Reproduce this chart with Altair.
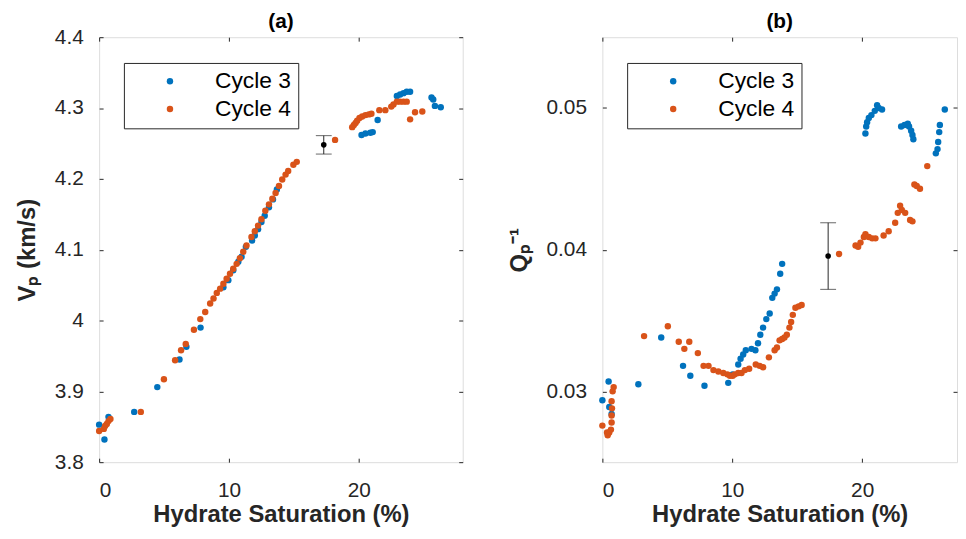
import altair as alt
import pandas as pd

# ---------------- data: panel (a) Vp ----------------
a_c3_sat = [0.0, 0.41, 0.72, 2.70, 4.48, 6.19, 6.72, 7.81, 9.57, 9.95, 10.33, 10.72, 10.97,
            11.30, 11.78, 11.99, 12.24, 12.50, 12.75, 13.08, 13.39, 13.69,
            20.21, 20.51, 20.89, 21.07, 21.45, 22.93, 23.18, 23.44, 23.69, 23.95,
            25.60, 25.73, 25.86, 26.31]
a_c3_vp = [3.853, 3.832, 3.864, 3.871, 3.906, 3.945, 3.963, 3.990, 4.047, 4.057, 4.071, 4.083, 4.090,
           4.104, 4.113, 4.120, 4.129, 4.139, 4.148, 4.160, 4.171, 4.185,
           4.262, 4.264, 4.265, 4.266, 4.283, 4.317, 4.319, 4.321, 4.323, 4.323,
           4.315, 4.312, 4.303, 4.301]
a_c4_sat = [0.0, 0.36, 0.46, 0.59, 0.72, 0.87, 3.21, 4.99, 5.85, 6.31, 6.67, 7.30, 7.79, 8.17,
            8.55, 8.81, 9.06, 9.32, 9.57, 9.82, 10.08, 10.33, 10.59, 10.84, 11.10, 11.35, 11.73,
            11.99, 12.24, 12.50, 12.80, 13.08, 13.34, 13.59, 13.85, 14.10, 14.36, 14.56, 14.96,
            15.22, 18.17, 19.49, 19.62, 19.75, 19.87, 20.05, 20.26, 20.51, 20.77, 20.97, 21.58,
            22.04, 22.50, 22.67, 22.93, 23.18, 23.44, 23.69, 23.95, 24.33, 24.89]
a_c4_vp = [3.844, 3.847, 3.851, 3.854, 3.858, 3.861, 3.871, 3.917, 3.944, 3.958, 3.967, 3.987, 4.002,
           4.012, 4.024, 4.031, 4.039, 4.045, 4.052, 4.059, 4.066, 4.073, 4.080, 4.088, 4.097,
           4.106, 4.118, 4.126, 4.134, 4.143, 4.155, 4.164, 4.172, 4.180, 4.190, 4.199, 4.206,
           4.211, 4.220, 4.224, 4.255, 4.273, 4.276, 4.279, 4.282, 4.286, 4.288, 4.290, 4.291,
           4.292, 4.297, 4.297, 4.302, 4.305, 4.309, 4.309, 4.309, 4.309, 4.284, 4.294, 4.295]

# ---------------- data: panel (b) Qp^-1 ----------------
b_c3_sat = [0.0, 0.48, 0.53, 0.71, 2.77, 4.53, 6.21, 6.77, 7.86, 9.69, 10.03, 10.46, 10.64, 10.84,
            11.04, 11.48, 11.78, 11.98, 12.16, 12.37, 12.62, 12.88, 13.08, 13.26, 13.44, 13.69,
            13.84, 20.25, 20.31, 20.38, 20.51, 20.71, 20.97, 21.15, 21.27, 21.53, 23.00, 23.26,
            23.51, 23.61, 23.77, 23.87, 23.94, 25.67, 25.80, 25.85, 25.93, 25.98, 26.36]
b_c3_q = [0.02937, 0.0307, 0.0289, 0.0284, 0.0305, 0.0338, 0.0318, 0.0311, 0.0304, 0.0306, 0.0312,
          0.0319, 0.0323, 0.0326, 0.0329, 0.0330, 0.0329, 0.0334, 0.0340, 0.0345, 0.0351, 0.0355,
          0.0366, 0.0369, 0.0372, 0.0383, 0.0390, 0.0482, 0.0487, 0.0490, 0.0493, 0.0495, 0.0498,
          0.0502, 0.0500, 0.0499, 0.0487, 0.0488, 0.0489, 0.0487, 0.0484, 0.0481, 0.0478, 0.0468,
          0.0471, 0.0476, 0.0483, 0.0488, 0.0499]
b_c4_sat = [0.0, 0.36, 0.41, 0.53, 0.66, 0.71, 0.71, 0.74, 0.71, 0.79, 0.87, 3.21, 5.04, 5.88, 6.31,
            6.69, 7.35, 7.79, 8.17, 8.55, 8.93, 9.31, 9.62, 9.82, 10.03, 10.20, 10.46, 10.71, 10.97,
            11.30, 11.81, 12.11, 12.37, 12.82, 13.26, 13.44, 13.64, 13.84, 14.02, 14.20, 14.40,
            14.53, 14.66, 14.86, 15.11, 15.34, 18.22, 19.49, 19.69, 19.87, 20.13, 20.25, 20.51,
            20.77, 21.02, 21.65, 22.04, 22.54, 22.74, 22.92, 23.05, 23.31, 23.69, 23.87, 24.02,
            24.20, 24.45, 25.01]
b_c4_q = [0.02758, 0.0271, 0.0269, 0.0271, 0.0273, 0.0278, 0.0283, 0.0288, 0.0293, 0.0300, 0.0303,
          0.0339, 0.0346, 0.0335, 0.0330, 0.0335, 0.0327, 0.0318, 0.0318, 0.0315, 0.0314, 0.0313,
          0.0312, 0.0311, 0.0311, 0.0312, 0.0313, 0.0313, 0.0315, 0.0316, 0.0319, 0.0318, 0.0317,
          0.0324, 0.0329, 0.0331, 0.0336, 0.0337, 0.0338, 0.0340, 0.0345, 0.0349, 0.0354, 0.0359,
          0.0360, 0.0361, 0.0397, 0.0403, 0.0402, 0.0405, 0.0409, 0.0411, 0.0409, 0.0408, 0.0408,
          0.0410, 0.0413, 0.0419, 0.0426, 0.0431, 0.0428, 0.0426, 0.0421, 0.0420, 0.0446, 0.0445,
          0.0443, 0.0459]

# ---------------- error bars (one per panel) ----------------
err_sat = [17.30, 17.38]
err_val = [4.248, 0.03955]
err_lo = [4.235, 0.0372]
err_hi = [4.261, 0.0419]

series = ["Cycle 3", "Cycle 4"]
colors = ["#0072BD", "#D95319"]

FONT = "Liberation Sans"
INK = "#262626"


def make_df(s3, v3, s4, v4):
    return pd.DataFrame({
        "sat": list(s3) + list(s4),
        "val": list(v3) + list(v4),
        "cycle": [series[0]] * len(s3) + [series[1]] * len(s4),
    })


def inward(orient, fmt=None, values=None, title=None, labels=True, labelPadding=16,
           titlePadding=4):
    kw = dict(orient=orient, domain=False, ticks=True, tickSize=4, offset=-4,
              tickColor=INK, grid=False, labels=labels, labelFont=FONT, labelFontSize=21,
              labelColor=INK, labelPadding=labelPadding, titleFont=FONT, titleFontSize=24,
              titleFontWeight="bold", titleColor=INK, titlePadding=titlePadding)
    if fmt:
        kw["format"] = fmt
    if values is not None:
        kw["values"] = values
    kw["title"] = title
    return alt.Axis(**kw)


def panel(df, i, ydom, yvals, yfmt, ytitle, ptitle, xdom, width, toff):
    xs = alt.Scale(domain=xdom, nice=False, zero=False)
    ys = alt.Scale(domain=ydom, nice=False, zero=False)
    legend = alt.Legend(title=None, orient="none", legendX=25, legendY=26,
                        strokeColor=INK, fillColor="white", padding=7,
                        labelFont=FONT, labelFontSize=23, labelColor="black",
                        symbolType="circle", symbolSize=42, symbolStrokeWidth=0,
                        symbolOffset=28, labelOffset=34, rowPadding=4)
    pts = alt.Chart(df).mark_circle(size=42, opacity=1).encode(
        x=alt.X("sat:Q", scale=xs, axis=inward("bottom", values=[0, 10, 20],
                                                  title="Hydrate Saturation (%)",
                                                  labelPadding=18, titlePadding=2)),
        y=alt.Y("val:Q", scale=ys, axis=inward("left", fmt=yfmt, values=yvals, title=ytitle,
                                                  labelPadding=16, titlePadding=15)),
        color=alt.Color("cycle:N", scale=alt.Scale(domain=series, range=colors), legend=legend),
    )
    edf = pd.DataFrame({"sat": [err_sat[i]], "val": [err_val[i]],
                        "lo": [err_lo[i]], "hi": [err_hi[i]]})
    cdf = pd.DataFrame({"sat": [err_sat[i], err_sat[i]], "val": [err_lo[i], err_hi[i]]})
    rule = alt.Chart(edf).mark_rule(color=INK, strokeWidth=1).encode(
        x=alt.X("sat:Q", scale=xs, axis=None),
        y=alt.Y("lo:Q", scale=ys, axis=None), y2="hi:Q")
    caps = alt.Chart(cdf).mark_tick(color=INK, orient="horizontal", size=16, thickness=1).encode(
        x=alt.X("sat:Q", scale=xs, axis=None),
        y=alt.Y("val:Q", scale=ys, axis=None))
    dot = alt.Chart(edf).mark_circle(size=32, color="black", opacity=1).encode(
        x=alt.X("sat:Q", scale=xs, axis=inward("top", values=[0, 10, 20], labels=False)),
        y=alt.Y("val:Q", scale=ys, axis=inward("right", values=yvals, labels=False)))
    return alt.layer(pts, rule, caps, dot).properties(
        width=width, height=429,
        title=alt.Title(ptitle, font=FONT, fontSize=21, fontWeight="bold", color="black",
                        anchor="middle", frame="group", offset=toff))


df_a = make_df(a_c3_sat, a_c3_vp, a_c4_sat, a_c4_vp)
df_b = make_df(b_c3_sat, b_c3_q, b_c4_sat, b_c4_q)

pa = panel(df_a, 0, [3.8, 4.4], [3.8, 3.9, 4.0, 4.1, 4.2, 4.3, 4.4], "~g",
           "Vₚ (km/s)", "(a)", [0, 28], 367, -6)
pb = panel(df_b, 1, [0.025, 0.055], [0.03, 0.04, 0.05], ".2f",
           "Qₚ⁻¹", "(b)", [0, 27.3], 358, 5)

chart = alt.hconcat(pa, pb, spacing=43).resolve_scale(
    x="independent", y="independent", color="shared"
).resolve_legend(color="independent").properties(
    padding={"left": 7, "top": 0, "right": 0, "bottom": 0}
).configure_view(stroke=INK, strokeWidth=1).configure(background="white")

chart.save("out.html", embed_options={"renderer": "svg", "actions": False})
